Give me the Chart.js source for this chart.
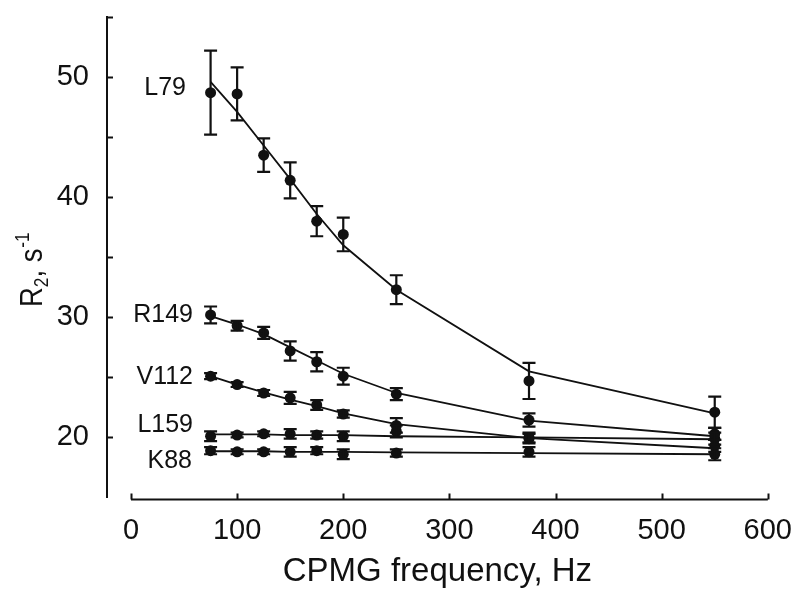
<!DOCTYPE html>
<html>
<head>
<meta charset="utf-8">
<script src="https://cdn.jsdelivr.net/npm/chart.js@4.4.1/dist/chart.umd.min.js"></script>
<style>
html,body{margin:0;padding:0;background:#fff;}
#c{display:block;}
</style>
</head>
<body>
<canvas id="c" width="800" height="602"></canvas>
<script>
// ---- data ----
const freqs = [75, 100, 125, 150, 175, 200, 250, 375, 550];

const L79    = [48.7, 48.6, 43.5, 41.4, 38.0, 36.9, 32.3, 24.7, 22.1];
const L79Err = [3.5, 2.2, 1.4, 1.5, 1.25, 1.4, 1.2, 1.5, 1.3];
const L79Fit = [49.6, 47.1, 44.3, 41.5, 38.6, 36.0, 32.3, 25.5, 22.0];

const R149    = [30.2, 29.3, 28.7, 27.2, 26.3, 25.1, 23.6, 21.45, 20.3];
const R149Err = [0.7, 0.4, 0.5, 0.8, 0.8, 0.7, 0.5, 0.55, 0.5];
const R149Fit = [30.1, 29.4, 28.6, 27.5, 26.4, 25.3, 23.7, 21.4, 20.1];

const V112    = [25.1, 24.4, 23.7, 23.3, 22.7, 21.95, 21.0, 19.9, 19.3];
const V112Err = [0.25, 0.2, 0.25, 0.5, 0.4, 0.3, 0.6, 0.4, 0.5];
const V112Fit = [25.1, 24.4, 23.75, 23.15, 22.6, 22.0, 21.1, 19.95, 19.1];

const L159    = [20.1, 20.2, 20.3, 20.3, 20.2, 20.1, 20.5, 20.0, 19.9];
const L159Err = [0.4, 0.2, 0.2, 0.4, 0.3, 0.4, 0.5, 0.4, 0.5];
const L159Fit = [20.25, 20.25, 20.25, 20.2, 20.2, 20.2, 20.1, 20.0, 19.85];

const K88    = [18.9, 18.8, 18.8, 18.8, 18.9, 18.6, 18.7, 18.8, 18.6];
const K88Err = [0.3, 0.2, 0.2, 0.4, 0.3, 0.4, 0.3, 0.4, 0.5];
const K88Fit = [18.85, 18.85, 18.85, 18.8, 18.8, 18.8, 18.75, 18.7, 18.6];

const seriesNames = ['L79', 'R149', 'V112', 'L159', 'K88'];
const xTicks = [0, 100, 200, 300, 400, 500, 600];
const yTicks = [20, 25, 30, 35, 40, 45, 50, 55];
const yLabelTicks = [20, 30, 40, 50];

// ---- build ----
const INK = '#111';
const FONT = '"Liberation Sans", Arial, sans-serif';
const series = [
  {name: seriesNames[0], v: L79,  e: L79Err,  f: L79Fit},
  {name: seriesNames[1], v: R149, e: R149Err, f: R149Fit},
  {name: seriesNames[2], v: V112, e: V112Err, f: V112Fit},
  {name: seriesNames[3], v: L159, e: L159Err, f: L159Fit},
  {name: seriesNames[4], v: K88,  e: K88Err,  f: K88Fit}
];

// label placement (pixel right edge, data-space vertical anchor)
const labelPlace = {
  L79:  {right: 186, yv: 49.1},
  R149: {right: 193, yv: 30.2},
  V112: {right: 193, yv: 25.05},
  L159: {right: 193, yv: 21.05},
  K88:  {right: 192, yv: 18.0}
};

const datasets = [];
series.forEach(s => {
  datasets.push({
    type: 'line', label: s.name + ' fit',
    data: freqs.map((x, i) => ({x, y: s.f[i]})),
    borderColor: INK, borderWidth: 1.8, pointRadius: 0, tension: 0, fill: false
  });
  datasets.push({
    type: 'scatter', label: s.name,
    data: freqs.map((x, i) => ({x, y: s.v[i]})),
    pointRadius: 5.5, pointBackgroundColor: INK, pointBorderWidth: 0, showLine: false
  });
});

const decorations = {
  id: 'decorations',
  afterDatasetsDraw(chart) {
    const {ctx, scales: {x, y}} = chart;
    ctx.save();
    ctx.strokeStyle = INK;
    ctx.lineWidth = 2.2;
    series.forEach(s => {
      freqs.forEach((f, i) => {
        const px = x.getPixelForValue(f);
        const t = y.getPixelForValue(s.v[i] + s.e[i]);
        const b = y.getPixelForValue(s.v[i] - s.e[i]);
        ctx.beginPath();
        ctx.moveTo(px, t); ctx.lineTo(px, b);
        ctx.moveTo(px - 6.5, t); ctx.lineTo(px + 6.5, t);
        ctx.moveTo(px - 6.5, b); ctx.lineTo(px + 6.5, b);
        ctx.stroke();
      });
    });
    // series labels
    ctx.fillStyle = INK;
    ctx.font = '25px ' + FONT;
    ctx.textAlign = 'right';
    ctx.textBaseline = 'middle';
    series.forEach(s => {
      const p = labelPlace[s.name];
      ctx.fillText(s.name, p.right, y.getPixelForValue(p.yv));
    });
    ctx.restore();
  },
  afterDraw(chart) {
    const {ctx, scales: {x, y}, chartArea} = chart;
    ctx.save();
    ctx.strokeStyle = INK;
    ctx.lineWidth = 2;
    // x axis line (spans 0..600 only)
    const xb = Math.round(chartArea.bottom) + 1.5;
    ctx.beginPath();
    ctx.moveTo(x.getPixelForValue(xTicks[0]), xb);
    ctx.lineTo(x.getPixelForValue(xTicks[xTicks.length - 1]), xb);
    xTicks.forEach(v => {
      const px = Math.round(x.getPixelForValue(v)) + 0.5;
      ctx.moveTo(px, xb);
      ctx.lineTo(px, xb - 6);
    });
    ctx.stroke();
    // y inward ticks
    ctx.beginPath();
    yTicks.forEach(v => {
      const py = Math.round(y.getPixelForValue(v)) + 0.5;
      ctx.moveTo(chartArea.left, py);
      ctx.lineTo(chartArea.left + 6, py);
    });
    ctx.stroke();
    // y axis title with sub/superscripts
    ctx.translate(42, 307);
    ctx.rotate(-Math.PI / 2);
    ctx.scale(0.86, 1);
    ctx.fillStyle = INK;
    ctx.textAlign = 'left';
    ctx.textBaseline = 'alphabetic';
    const big = '32px ' + FONT;
    const small = '20px ' + FONT;
    let cx = 0;
    ctx.font = big;  ctx.fillText('R', cx, 0);  cx += ctx.measureText('R').width;
    ctx.font = small; ctx.fillText('2', cx, 6); cx += ctx.measureText('2').width;
    ctx.font = big;  ctx.fillText(', s', cx, 0); cx += ctx.measureText(', s').width;
    ctx.font = small; ctx.fillText('-1', cx + 1, -13);
    ctx.restore();
  }
};

new Chart(document.getElementById('c'), {
  data: {datasets},
  options: {
    responsive: false,
    animation: false,
    devicePixelRatio: 1,
    layout: {padding: {left: 0, right: 32, top: 17, bottom: 0}},
    plugins: {legend: {display: false}, tooltip: {enabled: false}},
    scales: {
      x: {
        type: 'linear', min: -22.6, max: 600,
        afterBuildTicks: sc => { sc.ticks = xTicks.map(v => ({value: v})); },
        afterFit: sc => { sc.height = 104.5; },
        grid: {display: false},
        border: {display: false},
        ticks: {
          autoSkip: false, maxRotation: 0, padding: 8, color: INK,
          font: {family: FONT, size: 29},
          callback: v => String(v)
        },
        title: {
          display: true, text: 'CPMG frequency, Hz', color: INK,
          font: {family: FONT, size: 33},
          padding: {top: 0, bottom: 10}
        }
      },
      y: {
        type: 'linear', min: 15, max: 55,
        afterBuildTicks: sc => { sc.ticks = [15].concat(yTicks).map(v => ({value: v})); },
        afterFit: sc => { sc.width = 107; sc.paddingTop = 0; sc.paddingBottom = 0; },
        grid: {display: false},
        border: {display: true, color: INK, width: 2},
        ticks: {
          autoSkip: false, padding: 10, color: INK,
          font: {family: FONT, size: 29},
          callback: v => yLabelTicks.includes(v) ? String(v) : null
        }
      }
    }
  },
  plugins: [decorations]
});
</script>
</body>
</html>
